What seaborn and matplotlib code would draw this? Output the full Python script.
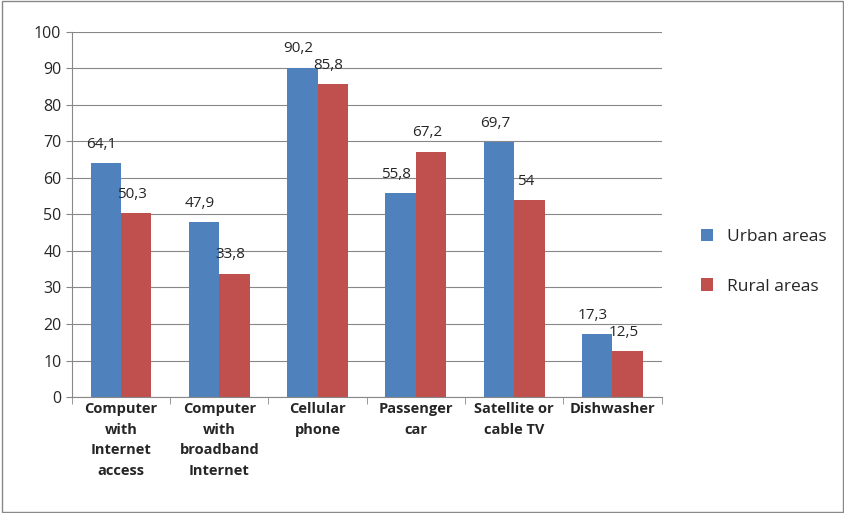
import matplotlib
matplotlib.use("Agg")
import matplotlib.pyplot as plt
import seaborn as sns
import pandas as pd
import numpy as np

categories = ["Computer\nwith\nInternet\naccess", "Computer\nwith\nbroadband\nInternet",
              "Cellular\nphone", "Passenger\ncar", "Satellite or\ncable TV", "Dishwasher"]
urban = [64.1, 47.9, 90.2, 55.8, 69.7, 17.3]
rural = [50.3, 33.8, 85.8, 67.2, 54.0, 12.5]
series = ["Urban areas", "Rural areas"]

df = pd.DataFrame({
    "cat": categories * 2,
    "val": urban + rural,
    "series": [series[0]] * len(urban) + [series[1]] * len(rural),
})

sns.set_style("white")
plt.rcParams["font.family"] = ["Open Sans", "DejaVu Sans"]

fig = plt.figure(figsize=(8.45, 5.13), dpi=100)
ax = fig.add_axes([0.085, 0.226, 0.698, 0.712])
sns.barplot(data=df, x="cat", y="val", hue="series", palette=["#4F81BD", "#C0504D"],
            width=0.62, saturation=1, linewidth=0, ax=ax, legend=True)

ax.set_ylim(0, 100)
ax.set_xlim(-0.5, len(categories) - 0.5)
ax.set_yticks(range(0, 101, 10))
ax.yaxis.grid(True, color="#888888", linewidth=0.8)
ax.set_axisbelow(True)
ax.set_xlabel("")
ax.set_ylabel("")
for s in ["top", "right"]:
    ax.spines[s].set_visible(False)
for s in ["left", "bottom"]:
    ax.spines[s].set_color("#888888")
ax.tick_params(axis="y", labelsize=11.5, length=4, color="#888888", left=True)
ax.tick_params(axis="x", length=0, labelsize=10.5)
for t in ax.get_xticklabels():
    t.set_fontweight("bold")
    t.set_linespacing(1.6)
ax.set_xticks(np.arange(-0.5, len(categories)), minor=True)
ax.tick_params(axis="x", which="minor", length=5, color="#888888", bottom=True)

def fmt(v):
    return ("%g" % v).replace(".", ",")

for cont in ax.containers:
    for bar in cont:
        h = bar.get_height()
        ax.annotate(fmt(h), (bar.get_x() + bar.get_width() / 2, h), xytext=(-3, 8),
                    textcoords="offset points", ha="center", va="bottom", fontsize=11)

leg = ax.legend(loc="center left", bbox_to_anchor=(1.04, 0.37), frameon=False,
                fontsize=12.5, handlelength=0.7, handleheight=0.7, labelspacing=1.9)

fig.patches.append(plt.Rectangle((0.002, 0.002), 0.996, 0.996, transform=fig.transFigure,
                                 fill=False, edgecolor="#888888", linewidth=1))
fig.savefig("out.png", dpi=100)
